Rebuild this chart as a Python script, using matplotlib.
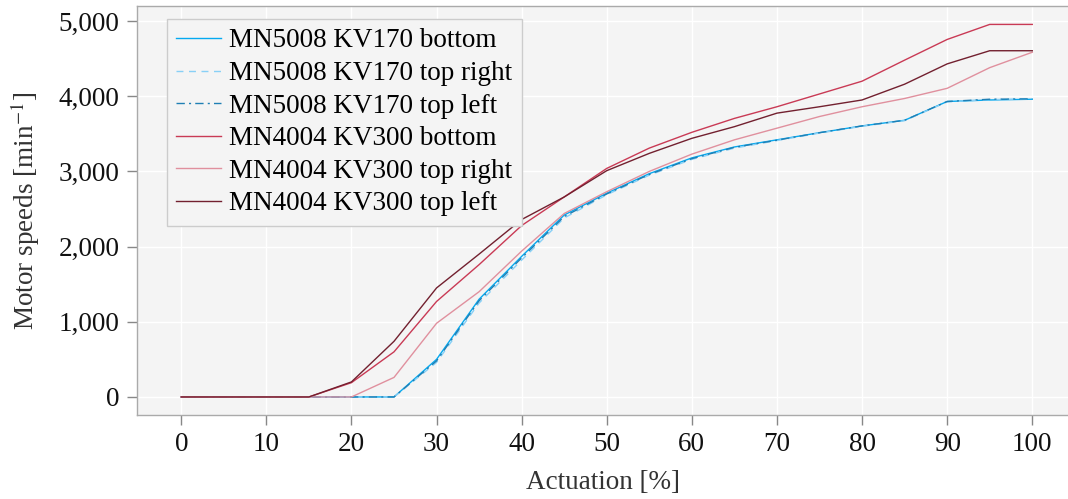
import matplotlib
matplotlib.use('Agg')
import matplotlib.pyplot as plt
from matplotlib.ticker import FuncFormatter

# Stellgrößen in Prozent
actuation = [0, 5, 10, 15, 20, 25, 30, 35, 40, 45, 50, 55, 60, 65, 70, 75, 80, 85, 90, 95, 100]

# Motordrehzahlen in 1/min
mn5008_bottom = [0, 0, 0, 0, 0, 0, 500, 1300, 1870, 2420, 2710, 2970, 3180, 3325, 3420, 3515, 3605, 3680, 3930, 3950, 3960]
mn5008_top_right = [0, 0, 0, 0, 0, 0, 460, 1250, 1820, 2380, 2690, 2950, 3160, 3310, 3410, 3510, 3600, 3675, 3925, 3955, 3965]
mn5008_top_left = [0, 0, 0, 0, 0, 0, 480, 1280, 1850, 2400, 2700, 2960, 3170, 3320, 3415, 3515, 3605, 3680, 3930, 3960, 3965]
mn4004_bottom = [0, 0, 0, 0, 190, 600, 1270, 1760, 2280, 2660, 3040, 3310, 3520, 3705, 3860, 4030, 4200, 4480, 4755, 4955, 4955]
mn4004_top_right = [0, 0, 0, 0, 0, 260, 980, 1400, 1940, 2440, 2730, 3000, 3230, 3420, 3575, 3730, 3860, 3970, 4105, 4380, 4585]
mn4004_top_left = [0, 0, 0, 0, 200, 740, 1450, 1900, 2360, 2660, 3010, 3240, 3440, 3595, 3775, 3860, 3950, 4160, 4430, 4605, 4605]

labels = ['MN5008 KV170 bottom', 'MN5008 KV170 top right', 'MN5008 KV170 top left',
          'MN4004 KV300 bottom', 'MN4004 KV300 top right', 'MN4004 KV300 top left']

plt.rcParams['font.family'] = ['Liberation Serif', 'DejaVu Serif']
plt.rcParams['mathtext.fontset'] = 'stix'
fs = 19.5

fig = plt.figure(figsize=(10.68, 4.99), dpi=100)
ax = fig.add_axes([137 / 1068, 84 / 499, 931 / 1068, 409 / 499])
ax.set_facecolor('#f4f4f4')

lw = 1.0
ax.plot(actuation, mn5008_bottom, color='#05a9f0', lw=lw, label=labels[0])
ax.plot(actuation, mn5008_top_right, color='#88d0f6', lw=lw, ls=(0, (5, 4)), label=labels[1])
ax.plot(actuation, mn5008_top_left, color='#1f7fb4', lw=lw, ls=(0, (6, 3, 1.5, 3)), label=labels[2])
ax.plot(actuation, mn4004_bottom, color='#c93a55', lw=lw, label=labels[3])
ax.plot(actuation, mn4004_top_right, color='#e0909e', lw=lw, label=labels[4])
ax.plot(actuation, mn4004_top_left, color='#72202f', lw=lw, label=labels[5])

ax.set_xlim(-5.2, 104.2)
ax.set_ylim(-240, 5200)
ax.set_xticks(range(0, 101, 10))
ax.set_yticks(range(0, 5001, 1000))
ax.yaxis.set_major_formatter(FuncFormatter(lambda v, p: '{:,.0f}'.format(v)))

ax.grid(True, color='white', lw=1.0)
ax.set_axisbelow(True)
for s in ['left', 'bottom', 'top']:
    ax.spines[s].set_color('#aaaaaa')
    ax.spines[s].set_linewidth(1.0)
ax.spines['right'].set_visible(False)
ax.tick_params(direction='out', length=7.5, width=1.0, color='#888888', labelsize=fs,
               labelcolor='#111111', pad=5)

ax.set_xlabel('Actuation [%]', fontsize=fs, color='#333333', labelpad=9)
ax.set_ylabel(r'Motor speeds [min$^{-1}$]', fontsize=fs, color='#333333', labelpad=12)

leg = ax.legend(loc='upper left', bbox_to_anchor=(30 / 931, 1 - 13 / 409), borderaxespad=0,
                fontsize=fs, fancybox=False, framealpha=1, facecolor='#f4f4f4', edgecolor='#cccccc',
                handlelength=1.65, handletextpad=0.3, labelspacing=0.28, borderpad=0.35)
leg.get_frame().set_linewidth(1.0)

fig.savefig('out.png', dpi=100)
